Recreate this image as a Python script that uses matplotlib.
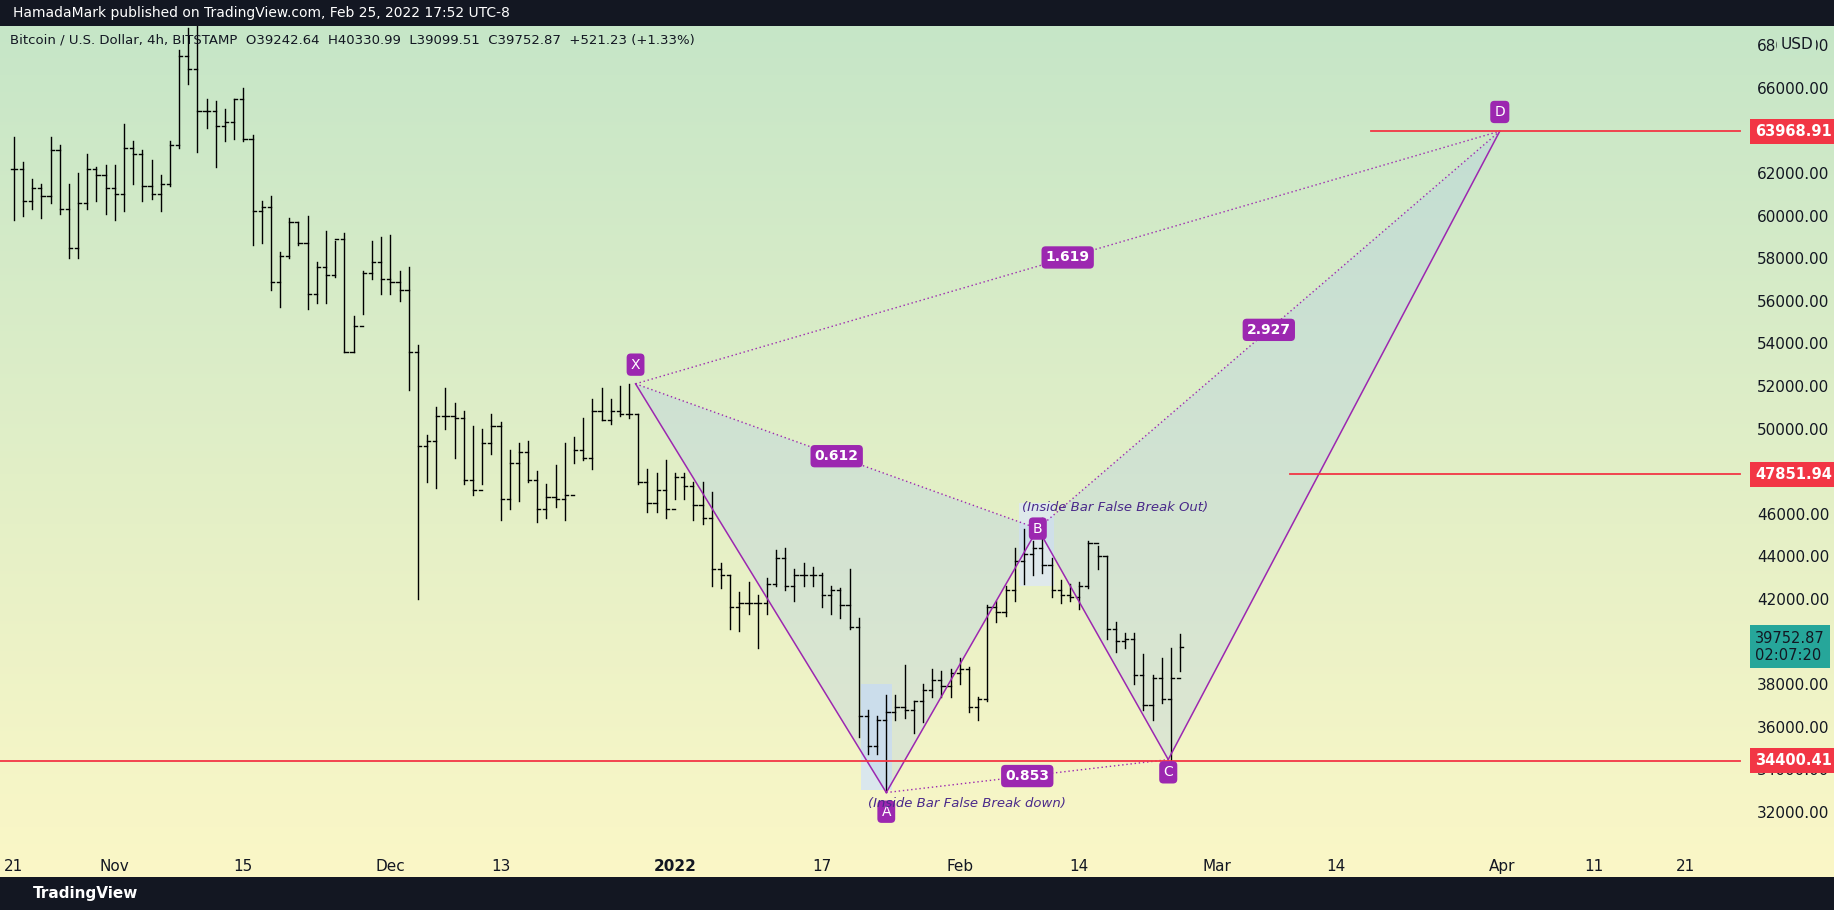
import matplotlib
matplotlib.use("Agg")
import matplotlib.pyplot as plt
import numpy as np
from matplotlib.patches import Polygon, Rectangle
import matplotlib.colors as mcolors

closes = [62200,60700,61300,60900,63100,60300,58500,60600,62200,61900,61300,
 61000,63200,62900,61400,61000,61500,63300,67500,66900,64900,64900,64200,64400,65500,63600,60200,60400,56900,58100,59700,58700,56300,57600,57200,58900,53600,54800,57300,57800,57000,
 56900,56500,53600,49200,49400,50600,50600,50500,47600,47100,49300,50100,46700,48400,48900,47600,46200,46800,46700,46900,49000,48600,50800,50400,50800,50700,50700,47500,46500,47100,46200,
 47700,47300,46400,45800,43400,43100,41600,41800,41800,41800,42700,43900,42600,43100,43100,43100,42200,42400,41700,40700,36500,35100,36300,36700,36900,36800,37200,37700,38200,37900,38500,
 38700,36900,37300,41600,41400,42400,43800,44100,44400,43600,42400,42200,42100,42600,44600,44000,40600,40000,40100,38400,37000,38300,37300,38300,39750]
highs = [63700,62500,61700,61500,63700,63300,61500,62000,62900,62300,62400,
 62400,64300,63500,63100,62600,61900,63500,67800,68800,69000,65500,65400,65000,65500,66000,63800,60700,60900,58300,59900,59700,60000,57800,59300,58800,59200,55300,57400,58800,59000,
 59100,57400,57600,53900,49700,51000,51900,51200,50800,50100,50000,50700,50300,49000,49300,49400,48000,47400,48300,49300,49600,50500,51400,51900,51400,52000,52100,50700,48100,47900,48500,
 47900,47900,47500,47500,47000,43700,43100,42300,42800,42200,43000,44300,44400,43400,43700,43500,43200,42600,42500,43400,41100,36800,36500,37500,37500,38900,37200,38000,38700,38600,38700,
 39200,38800,37400,41700,41900,42600,44400,45300,44700,45800,43900,42900,42700,42800,44700,44500,44000,40900,40400,40400,39400,38400,39200,39700,40330]
lows = [59800,60000,60300,59900,60600,60100,58000,58000,60300,60700,60100,
 59800,60200,61500,60700,60800,60200,61400,63200,66200,63000,64100,62300,63500,63600,63500,58600,58700,56500,55700,58000,58600,55600,55900,55900,57100,53600,53600,55400,57000,56300,
 56300,56000,51800,42000,47500,47200,50000,48600,47400,46900,47400,48800,45700,46200,46600,47500,45600,45800,46300,45700,48400,48500,48100,50400,50200,50600,50500,47400,46100,46100,45800,
 46700,46700,45700,45500,42600,42500,40600,40500,41300,39700,41300,42600,42400,41900,42600,42600,41600,41300,41100,40600,35500,34700,34700,33000,36300,36400,35700,36200,37400,37400,37400,
 38000,36700,36300,37200,40900,41200,41900,42700,43100,43200,42100,41800,41900,41500,42500,43400,40100,39500,39700,38000,36800,36300,37100,34300,38600]

# pattern points (day index from Oct 21 2021, price)
pat_names = ["X", "A", "B", "C", "D"]
pat_days = [67.7, 95.0, 111.5, 125.7, 161.8]
pat_prices = [52100, 32900, 45300, 34450, 63968.91]
ratio_labels = ["1.619", "0.612", "0.853", "2.927"]
levels = [34400.41, 47851.94, 63968.91]
level_start = [-5, 139, 147.8]
tick_days = [0, 11, 25, 41, 53, 72, 88, 103, 116, 131, 144, 162, 172, 182]
tick_labels = ["21", "Nov", "15", "Dec", "13", "2022", "17", "Feb", "14", "Mar", "14", "Apr", "11", "21"]
ytick_vals = list(range(32000, 68001, 2000))

n = min(len(closes), len(highs), len(lows))
W, H = 1834, 910
fig = plt.figure(figsize=(W/100, H/100), dpi=100)
fig.patch.set_facecolor("#131722")

bg = fig.add_axes([0, (778-750)/778, 1, (750-22)/778])
bg.set_axis_off()
c1 = np.array(mcolors.to_rgb("#c6e6c8")); c2 = np.array(mcolors.to_rgb("#fbf7c6"))
t = np.linspace(0, 1, 256)[:, None]
grad = (c1*(1-t) + c2*t)[:, None, :].repeat(2, axis=1)
bg.imshow(grad, aspect="auto", extent=[0, 1, 0, 1])
bg.set_xlim(0, 1); bg.set_ylim(0, 1)

ax = fig.add_axes([0, 1-720/778, 1488/1568, (720-22)/778])
ax.patch.set_alpha(0)
xmin, xmax = -1.5, 188
ax.set_xlim(xmin, xmax); ax.set_ylim(30570, 68920)

opens = [closes[0]] + closes[:n-1]
for i in range(n):
    ax.plot([i, i], [lows[i], highs[i]], color="black", lw=1.0)
    ax.plot([i-0.35, i], [opens[i], opens[i]], color="black", lw=1.0)
    ax.plot([i, i+0.35], [closes[i], closes[i]], color="black", lw=1.0)

pc = "#9c27b0"
pts = list(zip(pat_days, pat_prices))
X, A, B, C, D = pts
ax.add_patch(Polygon([X, A, B], closed=True, facecolor="#b3cde8", alpha=0.35, edgecolor="none"))
ax.add_patch(Polygon([B, C, D], closed=True, facecolor="#b3cde8", alpha=0.35, edgecolor="none"))
for p, q in [(X, A), (A, B), (B, C), (C, D)]:
    ax.plot([p[0], q[0]], [p[1], q[1]], color=pc, lw=1.1)
dotted = [(X, D), (X, B), (A, C), (B, D)]
for (p, q), lab in zip(dotted, ratio_labels):
    ax.plot([p[0], q[0]], [p[1], q[1]], color=pc, lw=1, ls=(0, (1, 2)))
    ax.text((p[0]+q[0])/2, (p[1]+q[1])/2, lab, color="white", fontsize=10, ha="center", va="center",
            fontweight="bold", bbox=dict(boxstyle="round,pad=0.3", fc=pc, ec="none"))
offs = [900, -900, 0, -600, 900]
for name, (d, p), o in zip(pat_names, pts, offs):
    ax.text(d, p+o, name, color="white", fontsize=10, ha="center", va="center",
            bbox=dict(boxstyle="round,pad=0.3", fc=pc, ec="none"))

ax.add_patch(Rectangle((92.3, 33000), 3.3, 5000, facecolor="#d4e4f7", alpha=0.8, edgecolor="none", zorder=0))
ax.add_patch(Rectangle((109.5, 42600), 3.8, 3900, facecolor="#dde8f5", alpha=0.8, edgecolor="none", zorder=0))
ax.text(109.8, 46000, "(Inside Bar False Break Out)", color="#4a2a8a", fontsize=9.5, style="italic", va="bottom")
ax.text(93, 32230, "(Inside Bar False Break down)", color="#4a2a8a", fontsize=9.5, style="italic")

for lv, st in zip(levels, level_start):
    ax.plot([st, xmax], [lv, lv], color="#f23645", lw=1.3, clip_on=False)

ax.set_xticks(tick_days)
ax.set_xticklabels(tick_labels)
for lab in ax.get_xticklabels():
    lab.set_fontweight("bold" if lab.get_text() == "2022" else "normal")
ax.tick_params(axis="x", length=0, labelsize=11, colors="#131722", pad=12)
ax.yaxis.tick_right()
ax.set_yticks(ytick_vals)
ax.set_yticklabels([f"{v:.2f}" for v in ytick_vals])
ax.tick_params(axis="y", length=0, labelsize=11, colors="#131722", pad=12)
for s in ax.spines.values():
    s.set_visible(False)

for lv in levels:
    ax.text(xmax+1.6, lv, f"{lv:.2f}", color="white", fontsize=10.5, ha="left", va="center", fontweight="bold",
            bbox=dict(boxstyle="square,pad=0.35", fc="#f23645", ec="none"), clip_on=False, zorder=5)
ax.text(xmax+1.6, closes[-1], f"{closes[-1]+2.87:.2f}\n02:07:20", color="#131722", fontsize=10.5, ha="left", va="center",
        bbox=dict(boxstyle="square,pad=0.35", fc="#26a69a", ec="none"), clip_on=False, zorder=5)

ax.text(0.006, 0.99, "Bitcoin / U.S. Dollar, 4h, BITSTAMP  O39242.64  H40330.99  L39099.51  C39752.87  +521.23 (+1.33%)",
        transform=ax.transAxes, fontsize=9.5, color="#131722", va="top")
fig.text(1522/1568, 1-38/778, "USD", fontsize=11, color="#131722", va="center",
         bbox=dict(boxstyle="square,pad=0.2", fc="#c6e6c8", ec="none"))
fig.text(0.007, 1-11/778, "HamadaMark published on TradingView.com, Feb 25, 2022 17:52 UTC-8",
         color="white", fontsize=10, va="center")
fig.text(0.018, 1-764/778, "TradingView", color="white", fontsize=11, va="center", fontweight="bold")

fig.savefig("out.png", dpi=100, facecolor=fig.get_facecolor())
